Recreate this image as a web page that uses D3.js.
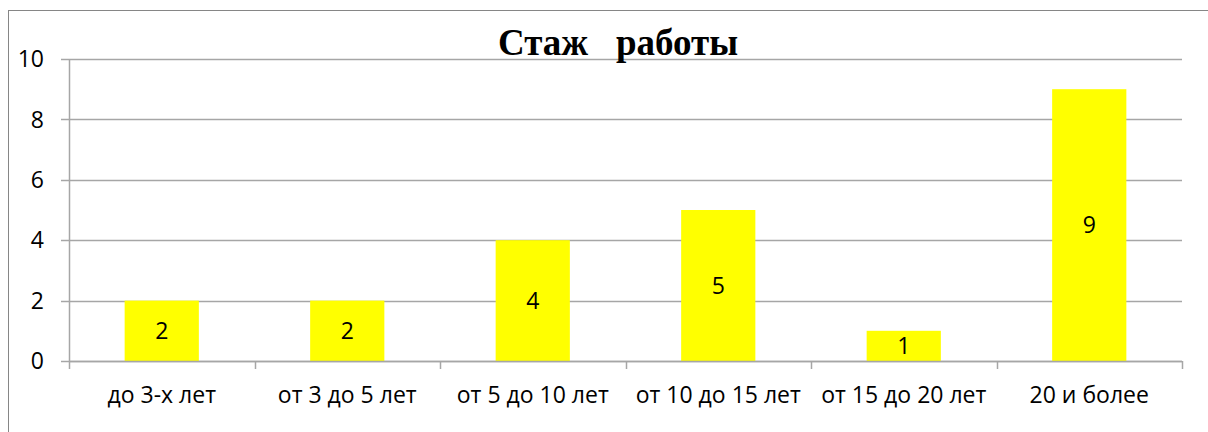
<!DOCTYPE html>
<html><head><meta charset="utf-8">
<script src="https://d3js.org/d3.v7.min.js"></script>
<style>body{margin:0;background:#fff}svg{display:block}</style>
</head><body>
<svg id="c" width="1208" height="432"></svg>
<script>
const categories = ["до 3-х лет","от 3 до 5 лет","от 5 до 10 лет","от 10 до 15 лет","от 15 до 20 лет","20 и более"];
const values = [2, 2, 4, 5, 1, 9];
const yTicks = [0, 2, 4, 6, 8, 10];
const title = "Стаж   работы";

const svg = d3.select("#c");
const m = {left: 69, right: 1182, top: 59, bottom: 361};
svg.append("rect").attr("x", 8.5).attr("y", 10.5).attr("width", 1210).attr("height", 430)
  .attr("fill", "#fff").attr("stroke", "#868686").attr("stroke-width", 1);

const x = d3.scaleBand().domain(categories).range([m.left, m.right]).paddingInner(0.6).paddingOuter(0.3);
const y = d3.scaleLinear().domain([0, 10]).range([m.bottom, m.top]);
const font = "'Open Sans', sans-serif";
const fs = 23;

// gridlines
svg.append("g").selectAll("line").data(yTicks).join("line")
  .attr("x1", m.left - 8).attr("x2", m.right)
  .attr("y1", d => Math.round(y(d)) + 0.5).attr("y2", d => Math.round(y(d)) + 0.5)
  .attr("stroke", "#a6a6a6").attr("stroke-width", 1.5);

// y axis line
svg.append("line").attr("x1", m.left + 0.5).attr("x2", m.left + 0.5)
  .attr("y1", m.top).attr("y2", m.bottom).attr("stroke", "#a6a6a6").attr("stroke-width", 1.5);

// y labels
svg.append("g").selectAll("text").data(yTicks).join("text")
  .attr("x", 44).attr("y", d => y(d)).attr("dy", "0.36em").attr("text-anchor", "end")
  .attr("font-family", font).attr("font-size", fs).attr("fill", "#000").text(d => d);

// bars
svg.append("g").selectAll("rect").data(values).join("rect")
  .attr("x", (d, i) => x(categories[i])).attr("width", x.bandwidth())
  .attr("y", d => y(d)).attr("height", d => y(0) - y(d)).attr("fill", "#ffff00");

// x axis
const boundaries = d3.range(categories.length + 1).map(i => m.left + (m.right - m.left) * i / categories.length);
svg.append("line").attr("x1", m.left).attr("x2", m.right)
  .attr("y1", m.bottom + 0.5).attr("y2", m.bottom + 0.5).attr("stroke", "#a6a6a6").attr("stroke-width", 1.5);
svg.append("g").selectAll("line").data(boundaries).join("line")
  .attr("x1", d => Math.round(d) + 0.5).attr("x2", d => Math.round(d) + 0.5)
  .attr("y1", m.bottom).attr("y2", m.bottom + 8).attr("stroke", "#a6a6a6").attr("stroke-width", 1.5);

svg.append("g").selectAll("text").data(categories).join("text")
  .attr("x", d => x(d) + x.bandwidth() / 2).attr("y", 403).attr("text-anchor", "middle")
  .attr("font-family", font).attr("font-size", fs).attr("fill", "#000").text(d => d);

// data labels
svg.append("g").selectAll("text").data(values).join("text")
  .attr("x", (d, i) => x(categories[i]) + x.bandwidth() / 2)
  .attr("y", d => (y(d) + y(0)) / 2).attr("dy", "0.36em").attr("text-anchor", "middle")
  .attr("font-family", font).attr("font-size", fs).attr("fill", "#000").text(d => d);

// title
svg.append("text").attr("x", 618).attr("y", 55).attr("text-anchor", "middle")
  .attr("font-family", "'Liberation Serif', serif").attr("font-weight", "bold").attr("font-size", 37)
  .attr("fill", "#000").style("white-space", "pre").attr("xml:space", "preserve").text(title);
</script>
</body></html>
